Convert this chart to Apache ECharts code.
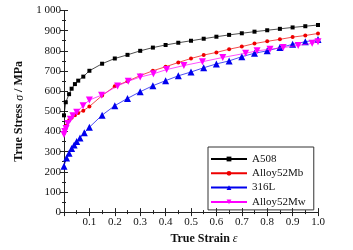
<!DOCTYPE html>
<html>
<head>
<meta charset="utf-8">
<script src="https://cdn.jsdelivr.net/npm/echarts@6/dist/echarts.min.js"></script>
<style>
  html, body { margin: 0; padding: 0; background: #fff; }
  #chart { width: 353px; height: 250px; }
</style>
</head>
<body>
<div id="chart"></div>
<script>
// strain (x) and stress (y, MPa)
var a508X = [0, 0.007, 0.02, 0.03, 0.043, 0.056, 0.076, 0.1, 0.15, 0.2, 0.25, 0.3, 0.35, 0.4, 0.45, 0.5, 0.55, 0.6, 0.65, 0.7, 0.75, 0.8, 0.85, 0.9, 0.95, 1.0];
var a508Y = [480, 545, 585, 612, 635, 652, 672, 701, 736, 762, 780, 800, 816, 829, 840, 850, 860, 870, 879, 887, 895, 902, 909, 916, 922, 928];

var mbX = [0, 0.005, 0.01, 0.02, 0.03, 0.043, 0.056, 0.076, 0.1, 0.15, 0.2, 0.25, 0.3, 0.35, 0.4, 0.45, 0.5, 0.55, 0.6, 0.65, 0.7, 0.75, 0.8, 0.85, 0.9, 0.95, 1.0];
var mbY = [392, 412, 430, 455, 468, 480, 492, 503, 524, 578, 624, 649, 677, 701, 721, 742, 762, 779, 792, 808, 821, 836, 847, 857, 868, 876, 886];

var l316X = [0, 0.01, 0.02, 0.03, 0.04, 0.05, 0.063, 0.08, 0.1, 0.15, 0.2, 0.25, 0.3, 0.35, 0.4, 0.45, 0.5, 0.55, 0.6, 0.65, 0.7, 0.75, 0.8, 0.85, 0.9, 0.95, 1.0];
var l316Y = [228, 268, 292, 315, 333, 350, 368, 393, 421, 481, 528, 564, 597, 627, 652, 676, 695, 716, 735, 750, 771, 788, 800, 816, 832, 845, 856];

var mwX = [0, 0.003, 0.008, 0.015, 0.025, 0.035, 0.05, 0.075, 0.1, 0.148, 0.211, 0.253, 0.3, 0.352, 0.404, 0.472, 0.545, 0.625, 0.715, 0.76, 0.811, 0.863, 0.922, 0.977, 1.0];
var mwY = [385, 400, 415, 440, 460, 478, 495, 528, 556, 580, 626, 649, 670, 686, 707, 727, 746, 767, 788, 800, 808, 816, 827, 837, 845];

var names = ["A508", "Alloy52Mb", "316L", "Alloy52Mw"];
var colors = ["#000000", "#ee0000", "#0000ee", "#ff00ff"];

function pairs(xs, ys) {
  return xs.map(function(x, i) { return [x, ys[i]]; });
}

var font = "Liberation Serif";
var axisColor = "#222";
var titleRich = {
  b: { fontFamily: font, fontSize: 12, fontWeight: "bold", color: "#111" },
  i: { fontFamily: font, fontSize: 12, fontStyle: "italic", color: "#111" }
};

function makeSeries(i, xs, ys, symbol, size) {
  return {
    name: names[i],
    type: "line",
    data: pairs(xs, ys),
    symbol: symbol,
    symbolSize: size,
    showAllSymbol: true,
    color: colors[i],
    lineStyle: { width: 0.7, color: colors[i] },
    itemStyle: { color: colors[i] },
    z: 2 + i
  };
}

function boxAxis(extra) {
  var ax = {
    type: "value",
    axisLine: { show: true, lineStyle: { color: axisColor, width: 1 } },
    axisTick: { show: true, inside: true, length: 4, lineStyle: { color: axisColor } },
    minorTick: { show: true, splitNumber: 2, length: 2, lineStyle: { color: axisColor } },
    splitLine: { show: false }
  };
  for (var k in extra) ax[k] = extra[k];
  return ax;
}

var chart = echarts.init(document.getElementById("chart"));
chart.setOption({
  animation: false,
  textStyle: { fontFamily: font },
  grid: { left: 64, right: 35, top: 10.5, bottom: 34 },
  legend: {
    left: 208,
    top: 147,
    orient: "vertical",
    data: names,
    itemWidth: 36,
    itemHeight: 6,
    itemGap: 2.3,
    padding: [6, 8, 2, 2],
    borderColor: "#333",
    borderWidth: 1,
    textStyle: { fontFamily: font, fontSize: 11, color: "#111", lineHeight: 12 }
  },
  xAxis: [boxAxis({
    min: 0,
    max: 1,
    interval: 0.1,
    name: "{b|True Strain }{i|ε}",
    nameLocation: "middle",
    nameGap: 12,
    nameTextStyle: { padding: [0, 0, 0, 26], rich: titleRich },
    axisLabel: {
      margin: 5,
      fontFamily: font,
      fontSize: 11,
      color: "#111",
      formatter: function(v) { return v === 0 ? "" : v.toFixed(1); }
    }
  }), boxAxis({
    position: "top",
    min: 0,
    max: 1,
    interval: 0.1,
    axisLabel: { show: false }
  })],
  yAxis: [boxAxis({
    min: 0,
    max: 1000,
    interval: 100,
    name: "{b|True Stress }{i|σ}{b| / MPa}",
    nameLocation: "middle",
    nameGap: 31,
    nameTextStyle: { rich: titleRich },
    axisLabel: {
      margin: 3,
      fontFamily: font,
      fontSize: 11,
      color: "#111",
      formatter: function(v) { return v === 1000 ? "1 000" : String(v); }
    }
  }), boxAxis({
    position: "right",
    min: 0,
    max: 1000,
    interval: 100,
    axisLabel: { show: false }
  })],
  series: [
    makeSeries(0, a508X, a508Y, "rect", 4),
    makeSeries(1, mbX, mbY, "circle", 4),
    makeSeries(2, l316X, l316Y, "triangle", 7),
    makeSeries(3, mwX, mwY, "path://M0,0L10,0L5,9Z", 7)
  ]
});
</script>
</body>
</html>
